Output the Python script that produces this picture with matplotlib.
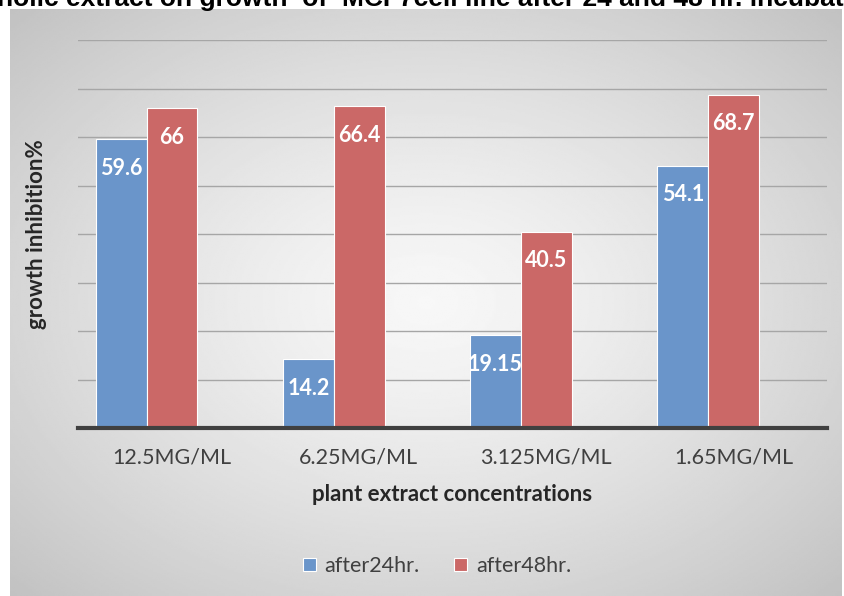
import numpy as np
import matplotlib.pyplot as plt

categories = ['12.5MG/ML', '6.25MG/ML', '3.125MG/ML', '1.65MG/ML']
after24 = [59.6, 14.2, 19.15, 54.1]
after48 = [66, 66.4, 40.5, 68.7]
labels24 = ['59.6', '14.2', '19.15', '54.1']
labels48 = ['66', '66.4', '40.5', '68.7']

W, H = 844, 596
fig = plt.figure(figsize=(W / 100, H / 100), dpi=100)

# chart panel with radial gray gradient
bg = fig.add_axes([10 / W, 0, 832 / W, 587 / H], zorder=0)
yy, xx = np.mgrid[-1:1:300j, -1:1:400j]
r = np.sqrt(xx ** 2 + yy ** 2) / np.sqrt(2)
bg.imshow(0.97 - 0.21 * r ** 1.3, cmap='gray', vmin=0, vmax=1, aspect='auto',
          extent=[0, 1, 0, 1])
bg.set_xlim(0, 1)
bg.set_ylim(0, 1)
bg.axis('off')

# title partly cut by top of the figure
fig.text(-3 / W, 1.0 - 6 / H, 'holic extract on growth  of  MCF7cell line after 24 and 48 hr. incubation',
         ha='left', va='baseline', fontsize=19, fontweight='bold', family='Liberation Sans',
         color='black')

ax = fig.add_axes([78 / W, (H - 428) / H, 749 / W, 388 / H], zorder=1)
ax.set_facecolor('none')
x = np.arange(len(categories))
w = 0.272
shift = 0.134
b1 = ax.bar(x - w / 2 - shift, after24, w, color='#6a95ca', edgecolor='white', linewidth=0.8,
            zorder=2, label='after24hr.')
b2 = ax.bar(x + w / 2 - shift, after48, w, color='#cb6867', edgecolor='white', linewidth=0.8,
            zorder=2, label='after48hr.')

for bars, labs in [(b1, labels24), (b2, labels48)]:
    for b, t in zip(bars, labs):
        ax.annotate(t, (b.get_x() + b.get_width() / 2, b.get_height()), xytext=(0, -21),
                    textcoords='offset points', ha='center', va='center', color='white',
                    fontsize=15.5, fontweight='bold', family='Lato')

ax.set_xlim(-0.5, 3.5)
ax.set_ylim(0, 80)
ax.set_yticks(np.arange(10, 81, 10))
ax.yaxis.grid(True, color='#a6a6a6', linewidth=1)
ax.tick_params(axis='y', length=0, labelleft=False)
ax.set_axisbelow(True)
for s in ['top', 'right', 'left']:
    ax.spines[s].set_visible(False)
ax.spines['bottom'].set_color('#404040')
ax.spines['bottom'].set_linewidth(3)

ax.set_xticks(x)
ax.set_xticklabels(categories, fontsize=15.5, color='#404040', family='Lato')
ax.tick_params(axis='x', length=0, pad=14)
ax.set_xlabel('plant extract concentrations', fontsize=16, fontweight='bold', color='#262626',
              family='Lato', labelpad=12)
ax.set_ylabel('growth inhibition%', fontsize=16, fontweight='bold', color='#262626',
              family='Lato', labelpad=22)

fig.legend(handles=[b1, b2], loc='center', bbox_to_anchor=(437 / W, (H - 566) / H), ncol=2,
           frameon=False, prop={'family': 'Lato', 'size': 15.5}, handlelength=0.6,
           handleheight=0.6, columnspacing=1.6, handletextpad=0.4, labelcolor='#404040')

fig.savefig('out.png', dpi=100)
